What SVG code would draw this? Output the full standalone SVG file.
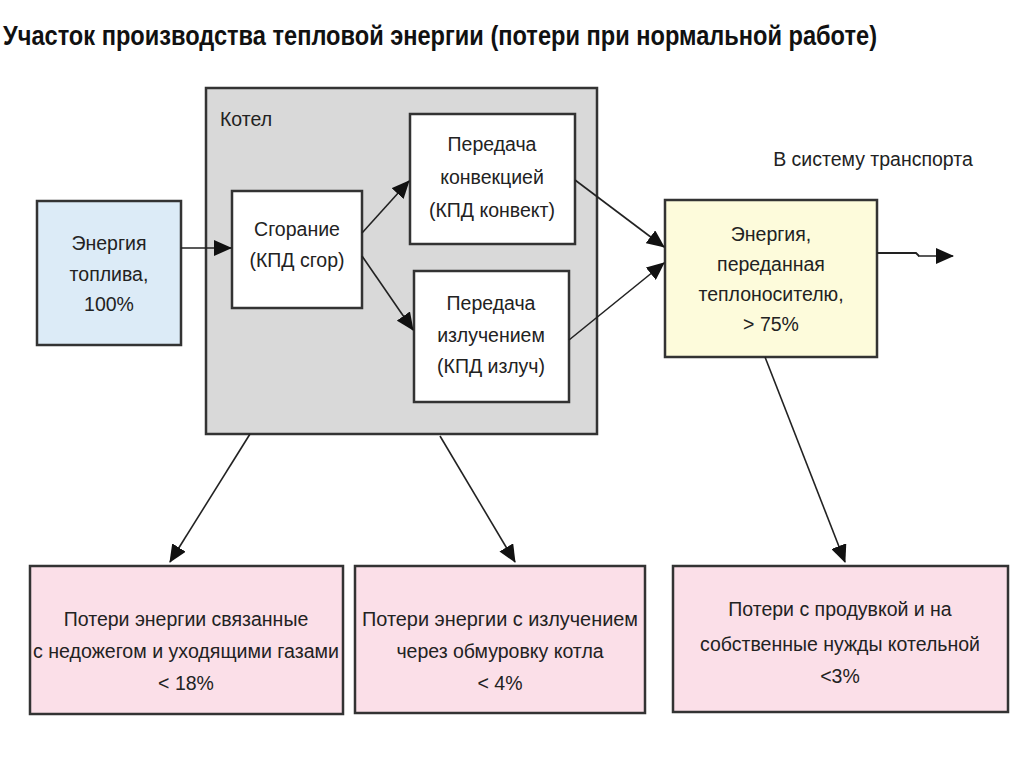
<svg xmlns="http://www.w3.org/2000/svg" width="1024" height="767" viewBox="0 0 1024 767">
<defs>
<marker id="ah" markerWidth="18" markerHeight="16" refX="17" refY="8" orient="auto" markerUnits="userSpaceOnUse" viewBox="0 0 18 16">
<path d="M0,0 L18,8 L0,16 z" fill="#111"/>
</marker>
<style>
.t{font-family:"Liberation Sans",Arial,sans-serif;font-size:19.5px;fill:#222;text-anchor:middle}
.box{stroke:#333;stroke-width:2.5}
.c{stroke:#222;stroke-width:1.6;fill:none;marker-end:url(#ah)}
</style>
</defs>
<rect width="1024" height="767" fill="#fff"/>
<text x="3" y="45" font-family="'Liberation Sans',Arial,sans-serif" font-weight="bold" font-size="27" fill="#111" textLength="874" lengthAdjust="spacingAndGlyphs">Участок производства тепловой энергии (потери при нормальной работе)</text>

<g id="boiler">
<rect class="box" x="206" y="88" width="391" height="346" fill="#d9d9d9"/>
<text x="220" y="126" class="t" style="text-anchor:start">Котел</text>
</g>
<g id="fuel">
<rect class="box" x="37" y="201" width="144" height="144" fill="#dcebf7"/>
<text class="t" x="109" y="250">Энергия</text>
<text class="t" x="109" y="281">топлива,</text>
<text class="t" x="109" y="311">100%</text>
</g>
<g id="combustion">
<rect class="box" x="232" y="191" width="130" height="117" fill="#fff"/>
<text class="t" x="297" y="236">Сгорание</text>
<text class="t" x="297" y="267">(КПД сгор)</text>
</g>
<g id="convection">
<rect class="box" x="410" y="114" width="165" height="130" fill="#fff"/>
<text class="t" x="492" y="151">Передача</text>
<text class="t" x="492" y="184">конвекцией</text>
<text class="t" x="492" y="217">(КПД конвект)</text>
</g>
<g id="radiation">
<rect class="box" x="414" y="271" width="155" height="131" fill="#fff"/>
<text class="t" x="491" y="310">Передача</text>
<text class="t" x="491" y="342">излучением</text>
<text class="t" x="491" y="373">(КПД излуч)</text>
</g>
<g id="carrier">
<rect class="box" x="665" y="200" width="212" height="157" fill="#fdfbdb"/>
<text class="t" x="771" y="241">Энергия,</text>
<text class="t" x="771" y="271">переданная</text>
<text class="t" x="771" y="301">теплоносителю,</text>
<text class="t" x="771" y="331">&gt; 75%</text>
</g>
<g id="transport-label">
<text class="t" x="873" y="166">В систему транспорта</text>
</g>
<g id="loss1">
<rect class="box" x="30" y="566" width="313" height="148" fill="#fbdfe8"/>
<text class="t" x="186" y="626">Потери энергии связанные</text>
<text class="t" x="186" y="658" textLength="306" lengthAdjust="spacingAndGlyphs">с недожегом и уходящими газами</text>
<text class="t" x="186" y="690">&lt; 18%</text>
</g>
<g id="loss2">
<rect class="box" x="355" y="566" width="290" height="147" fill="#fbdfe8"/>
<text class="t" x="500" y="626" textLength="276" lengthAdjust="spacingAndGlyphs">Потери энергии с излучением</text>
<text class="t" x="500" y="658">через обмуровку котла</text>
<text class="t" x="500" y="690">&lt; 4%</text>
</g>
<g id="loss3">
<rect class="box" x="673" y="566" width="335" height="146" fill="#fbdfe8"/>
<text class="t" x="840" y="616">Потери с продувкой и на</text>
<text class="t" x="840" y="651">собственные нужды котельной</text>
<text class="t" x="840" y="683">&lt;3%</text>
</g>
<g id="connectors">
<line class="c" x1="181" y1="248" x2="231" y2="248"/>
<line class="c" x1="362" y1="233" x2="409" y2="181"/>
<line class="c" x1="362" y1="256" x2="413" y2="330"/>
<line class="c" x1="575" y1="180" x2="664" y2="247"/>
<line class="c" x1="569" y1="340" x2="664" y2="263"/>
<path d="M877,253 H916 L919,256" stroke="#222" stroke-width="1.8" fill="none"/>
<line class="c" x1="918" y1="256" x2="953" y2="256"/>
<line class="c" x1="250" y1="434" x2="170" y2="562"/>
<line class="c" x1="440" y1="436" x2="515" y2="562"/>
<line class="c" x1="765" y1="357" x2="845" y2="562"/>
</g>
</svg>
